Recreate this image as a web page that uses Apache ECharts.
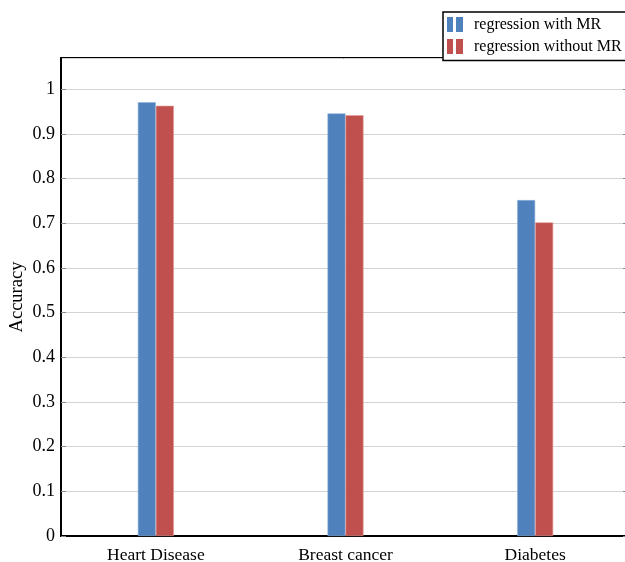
<!DOCTYPE html>
<html>
<head>
<meta charset="utf-8">
<script src="https://cdn.jsdelivr.net/npm/echarts@6/dist/echarts.min.js"></script>
<style>html,body{margin:0;padding:0;background:#fff;}#c{width:625px;height:562px;}</style>
</head>
<body>
<div id="c"></div>
<script>
const categories = ['Heart Disease', 'Breast cancer', 'Diabetes'];
const withMR = [0.971, 0.946, 0.752];
const withoutMR = [0.963, 0.942, 0.702];
const seriesNames = ['regression with MR', 'regression without MR'];
const yTicks = [0, 0.1, 0.2, 0.3, 0.4, 0.5, 0.6, 0.7, 0.8, 0.9, 1];

const FONT = 'Liberation Serif';
const icon = 'path://M0,0h6v15h-6z M9,0h7v15h-7z';
const chart = echarts.init(document.getElementById('c'));
chart.setOption({
  animation: false,
  backgroundColor: '#fff',
  textStyle: { fontFamily: FONT },
  grid: { left: 61, top: 58, width: 569, bottom: 26, show: true, borderColor: '#000', borderWidth: 2,
    backgroundColor: 'transparent', containLabel: false, outerBoundsMode: 'none' },
  legend: {
    orient: 'vertical',
    left: 443, top: 12,
    data: seriesNames.map(n => ({ name: n, icon: icon })),
    itemWidth: 16, itemHeight: 15, itemGap: 6,
    padding: [4.5, 20, 6, 4],
    borderColor: '#000', borderWidth: 1.5, backgroundColor: '#fff',
    itemStyle: { borderWidth: 0 },
    textStyle: { fontFamily: FONT, fontSize: 16, color: '#000', padding: [0, 0, 0, 6] }
  },
  xAxis: {
    type: 'category', data: categories,
    axisLine: { lineStyle: { color: '#000', width: 2 } },
    axisTick: { show: false },
    axisLabel: { fontFamily: FONT, fontSize: 17.5, color: '#000', margin: 10 }
  },
  yAxis: [{
    type: 'value', min: 0, max: 1.07, interval: 0.1,
    name: 'Accuracy', nameLocation: 'middle', nameGap: 34, nameRotate: 90, nameMoveOverlap: false,
    nameTextStyle: { fontFamily: FONT, fontSize: 18.5, color: '#000' },
    axisLine: { show: true, lineStyle: { color: '#000', width: 2 } },
    axisTick: { show: true, inside: true, length: 5, lineStyle: { color: '#888' } },
    axisLabel: { fontFamily: FONT, fontSize: 18, color: '#000', margin: 6, showMaxLabel: false,
      formatter: v => yTicks.some(t => Math.abs(t - v) < 1e-6) ? String(+v.toFixed(1)) : '' },
    splitLine: { show: true, lineStyle: { color: '#d4d4d4', width: 1 } }
  }, {
    type: 'value', min: 0, max: 1.07, interval: 0.1, position: 'right',
    axisLine: { show: false },
    axisTick: { show: true, inside: true, length: 7, lineStyle: { color: '#888' } },
    axisLabel: { show: false },
    splitLine: { show: false }
  }],
  series: [
    { name: seriesNames[0], type: 'bar', data: withMR, barWidth: 18, barGap: '0%',
      itemStyle: { color: '#4f81bd', borderColor: '#8fb0dc', borderWidth: 0.6 } },
    { name: seriesNames[1], type: 'bar', data: withoutMR, barWidth: 18, barGap: '0%',
      itemStyle: { color: '#c0504d', borderColor: '#e09896', borderWidth: 0.6 } }
  ]
});
</script>
</body>
</html>
